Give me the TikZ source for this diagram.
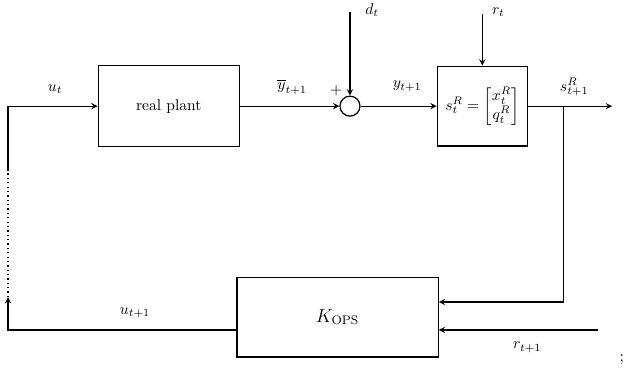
\documentclass[tikz,border=0pt]{standalone}
\usepackage{amsmath}
\begin{document}
\begin{tikzpicture}[
    blk/.style={draw, thick, align=center},
    sumc/.style={draw, thick, circle, minimum size=0.45cm, inner sep=0pt},
    arr/.style={-stealth, thick},
    lbl/.style={inner sep=1pt}
]
\useasboundingbox (0,0) rectangle (14.05,8.47);
% --- Forward path ---
\node[blk, minimum width=3.18cm, minimum height=1.82cm] (plant) at (3.80,6.08) {real plant};
\node[sumc] (sum) at (7.88,6.08) {};
\node[blk, minimum width=2.03cm, minimum height=1.80cm, inner sep=1pt] (state) at (10.86,6.08) {$s_t^R = \begin{bmatrix} x_t^R \\ q_t^R \end{bmatrix}$};
\coordinate (dtop) at (7.88,8.20);
\coordinate (rtop) at (10.86,8.15);
\coordinate (out) at (13.78,6.08);
\coordinate (split) at (12.68,6.08);
\draw[arr] (plant)--(sum);
\draw[arr] (sum)--(state);
\draw[arr] (dtop)--(sum);
\draw[arr] (rtop)--(state);
\draw[arr] (state)--(out);
\node[lbl] (ut) at (1.24,6.46) {$u_t$};
\node[lbl] (ybar) at (6.58,6.51) {$\overline{y}_{t+1}$};
\node[lbl] (plus) at (7.57,6.44) {$+$};
\node[lbl] (dt) at (8.38,8.24) {$d_t$};
\node[lbl] (yt) at (9.17,6.53) {$y_{t+1}$};
\node[lbl] (rt) at (11.22,8.20) {$r_t$};
\node[lbl] (snext) at (12.93,6.51) {$s_{t+1}^R$};

% --- Feedback path ---
\node[blk, minimum width=4.53cm, minimum height=1.80cm, font=\large] (kops) at (7.60,1.33) {$K_{\mathrm{OPS}}$};
\coordinate (rnext) at (13.47,1.04);
\coordinate (fb) at (0.18,1.78);
\coordinate (fbtop) at (0.18,4.64);
\draw[arr] (split) |- ([yshift=0.34cm]kops.east);
\draw[arr] (rnext) -- (kops.east |- rnext);
\draw[arr] (kops.west |- rnext) -| (fb);
\draw[dotted, thick] (fb) -- (fbtop);
\draw[arr] (fbtop) |- (plant.west);
\node[lbl] (unext) at (3.04,1.42) {$u_{t+1}$};
\node[lbl] (rlbl) at (11.87,0.65) {$r_{t+1}$};
\node[anchor=base, inner sep=0pt] (semi) at (14.0,0.32) {;};
\end{tikzpicture}
\end{document}
